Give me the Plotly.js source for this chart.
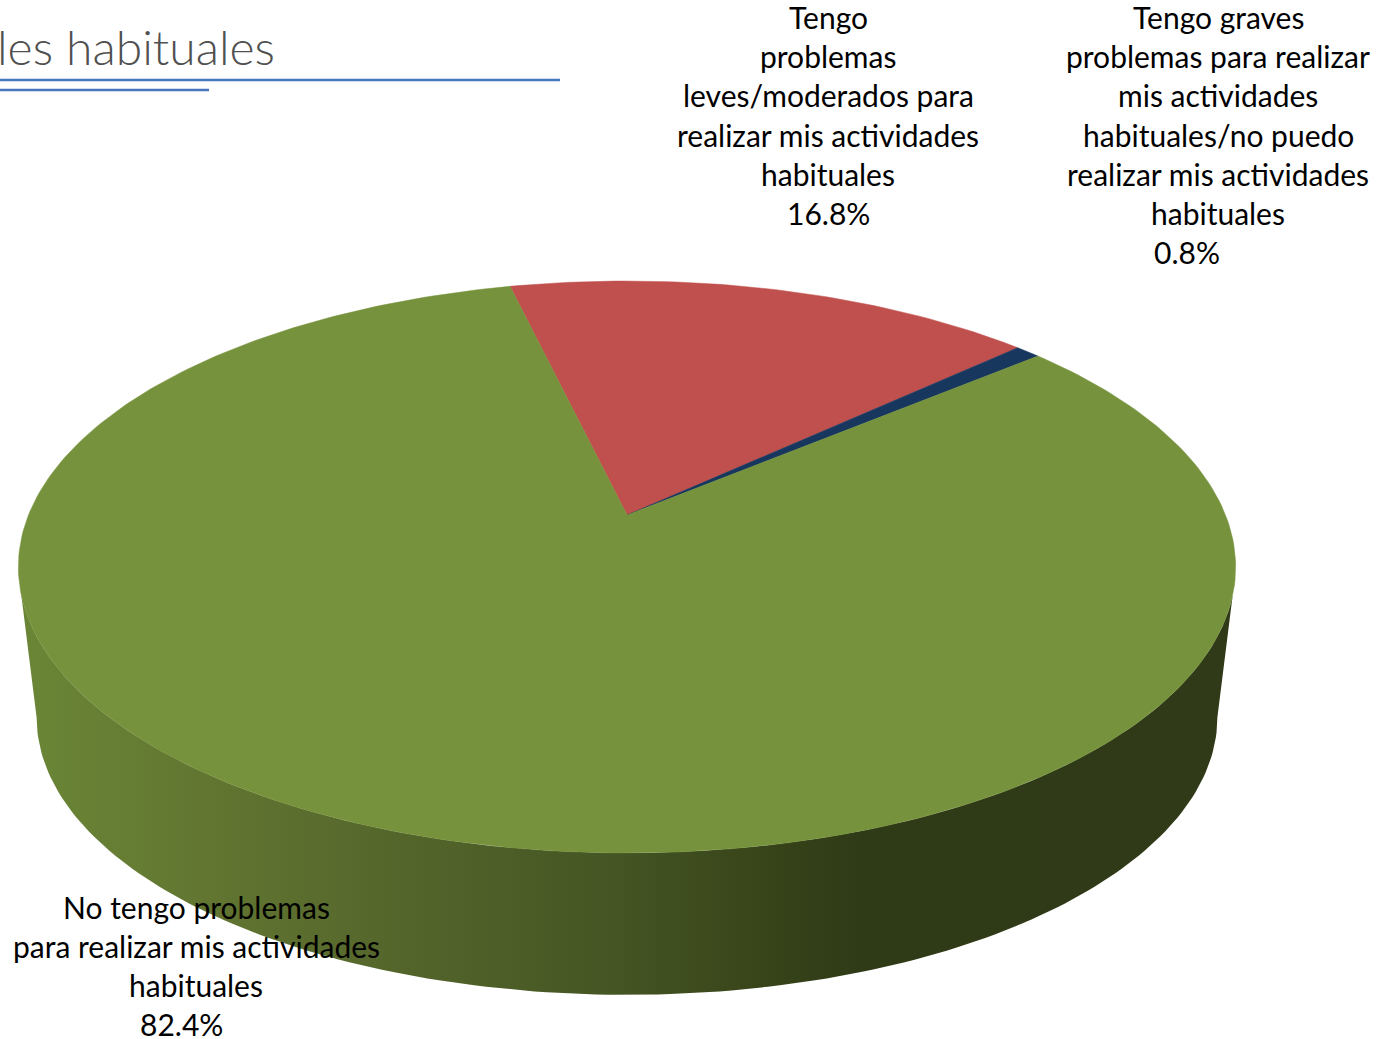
<!DOCTYPE html>
<html>
<head>
<meta charset="utf-8">
<script src="https://cdn.plot.ly/plotly-3.0.1.min.js"></script>
<style>
  html, body { margin: 0; padding: 0; background: #fff; overflow: hidden; }
  #chart { width: 1379px; height: 1039px; }
</style>
</head>
<body>
<div id="chart"></div>
<script>
// Share of respondents by answer, in drawing order (clockwise)
const sliceNames = [
  "Tengo problemas leves/moderados para realizar mis actividades habituales",
  "Tengo graves problemas para realizar mis actividades habituales/no puedo realizar mis actividades habituales",
  "No tengo problemas para realizar mis actividades habituales"
];
const sliceValues = [16.8, 0.8, 82.4];
const sliceColors = ["#c0504d", "#17375e", "#76923c"];
const labelLines = [
  ["Tengo", "problemas", "leves/moderados para", "realizar mis actividades", "habituales"],
  ["Tengo graves", "problemas para realizar", "mis actividades", "habituales/no puedo", "realizar mis actividades", "habituales"],
  ["No tengo problemas", "para realizar mis actividades", "habituales"]
];
const titleText = "les habituales";

// Label placement: text column centre, percentage column centre, first line row
const labelBoxes = [
  {cx: 828, pctX: 828, top: 17},
  {cx: 1218, pctX: 1187, top: 17},
  {cx: 196, pctX: 181, top: 906.5}
];
const lineStep = 39.2;

// Perspective disc: a unit circle seen from above, with its far side foreshortened
const discCx = 627, discA = 598.5, discB = 276.5, tilt = 0.1818;
const topApexY = 515, baseApexY = 667, baseScale = 0.97;
const startAngle = -13.3;

function project(deg, scale, apexY) {
  const t = deg * Math.PI / 180, u = Math.sin(t), v = Math.cos(t), d = 1 + tilt * v;
  return [discCx + scale * discA * u / d, apexY - scale * discB * v / d];
}

function arc(from, to, scale, apexY) {
  const pts = [], n = Math.max(2, Math.ceil(Math.abs(to - from)));
  for (let i = 0; i <= n; i++) pts.push(project(from + (to - from) * i / n, scale, apexY));
  return pts;
}

const traces = [];

// Rim: lower half of the base outline closed against the top outline
const rimPts = arc(100.5, 259.5, baseScale, baseApexY)
  .concat(arc(254, 106, 1, topApexY));
rimPts.push(rimPts[0]);
traces.push({
  type: "scatter", mode: "lines", hoverinfo: "skip",
  x: rimPts.map(p => p[0]), y: rimPts.map(p => p[1]),
  line: {width: 0}, fill: "toself",
  fillgradient: {
    type: "horizontal", start: 36, stop: 1218,
    colorscale: [
      [0, "#6a8536"], [0.14, "#627631"], [0.31, "#54652b"],
      [0.48, "#465624"], [0.62, "#374419"], [0.70, "#2f3a17"], [1, "#303a18"]
    ]
  }
});

// Top face: one wedge per answer, swept from its share of the total
const total = sliceValues.reduce((a, b) => a + b, 0);
let angle = startAngle;
sliceValues.forEach((val, i) => {
  const sweep = val / total * 360;
  const pts = [[discCx, topApexY]].concat(arc(angle, angle + sweep, 1, topApexY));
  pts.push(pts[0]);
  traces.push({
    type: "scatter", mode: "lines", name: sliceNames[i],
    x: pts.map(p => p[0]), y: pts.map(p => p[1]),
    line: {width: 0.5, color: sliceColors[i]},
    fill: "toself", fillcolor: sliceColors[i],
    hovertemplate: val.toFixed(1) + "%<extra>" + sliceNames[i] + "</extra>"
  });
  angle += sweep;
});

// Category labels, one annotation per line, with the percentage below
const labelFont = {family: "Lato, sans-serif", size: 30, color: "#000000"};
const annotations = [];
labelLines.forEach((lines, i) => {
  const box = labelBoxes[i];
  lines.concat([sliceValues[i].toFixed(1) + "%"]).forEach((txt, j) => {
    annotations.push({
      xref: "x", yref: "y", showarrow: false,
      x: j === lines.length ? box.pctX : box.cx,
      y: box.top + j * lineStep,
      xanchor: "center", yanchor: "middle",
      text: txt, font: labelFont
    });
  });
});
annotations.push({
  xref: "x", yref: "y", showarrow: false, x: 277, y: 46,
  xanchor: "right", yanchor: "middle", text: titleText,
  font: {family: "Lato, sans-serif", weight: 300, size: 48, color: "#505050"}
});

const hiddenAxis = {visible: false, fixedrange: true};
const layout = {
  width: 1379, height: 1039,
  margin: {l: 0, r: 0, t: 0, b: 0},
  paper_bgcolor: "#ffffff", plot_bgcolor: "#ffffff",
  showlegend: false,
  xaxis: Object.assign({range: [0, 1379]}, hiddenAxis),
  yaxis: Object.assign({range: [1039, 0]}, hiddenAxis),
  annotations: annotations,
  shapes: [
    {type: "line", xref: "x", yref: "y", x0: 0, x1: 560, y0: 80, y1: 80, line: {color: "#4676bd", width: 2.6}},
    {type: "line", xref: "x", yref: "y", x0: 0, x1: 209, y0: 90, y1: 90, line: {color: "#4676bd", width: 2.6}}
  ]
};

Plotly.newPlot("chart", traces, layout, {displayModeBar: false});
</script>
</body>
</html>
